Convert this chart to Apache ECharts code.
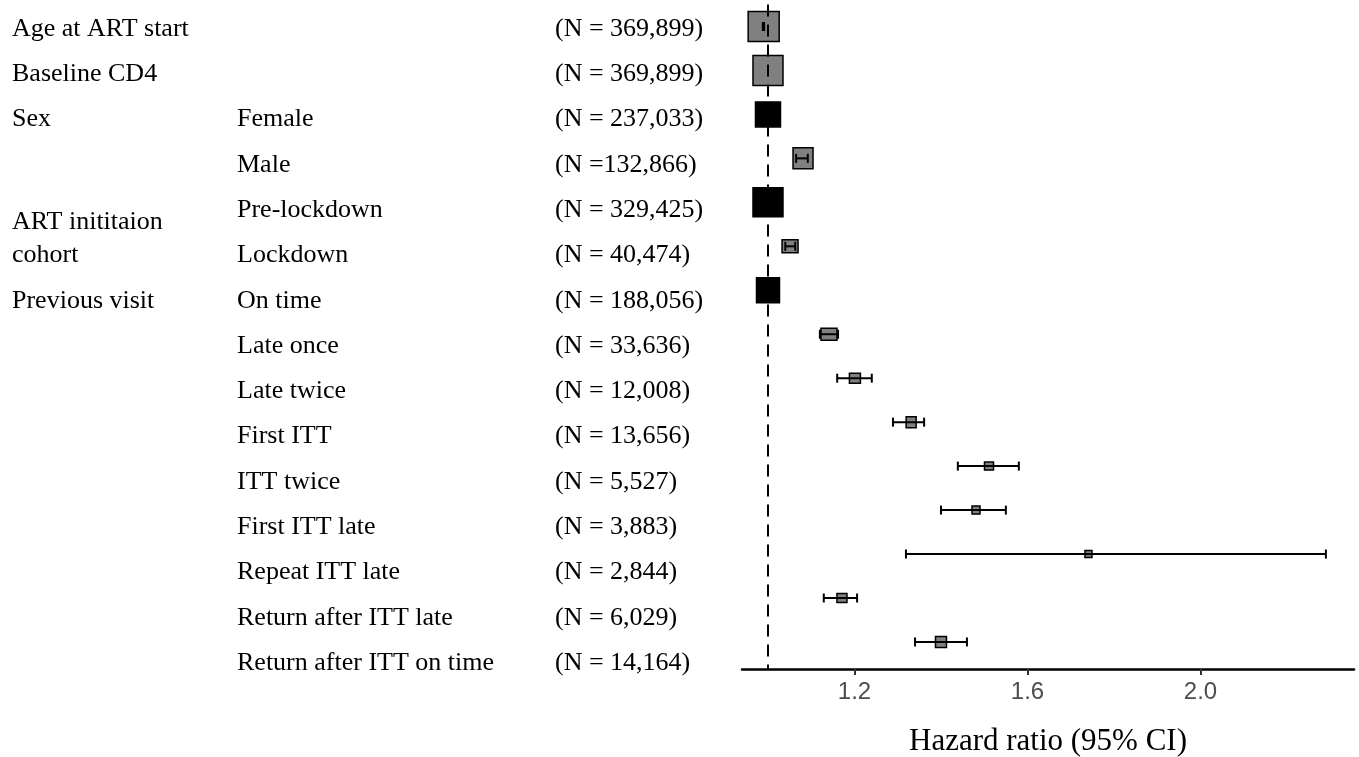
<!DOCTYPE html>
<html>
<head>
<meta charset="utf-8">
<script src="https://cdn.jsdelivr.net/npm/echarts@6/dist/echarts.min.js"></script>
<style>html,body{margin:0;padding:0;background:#fff}#c{width:1359px;height:757px}</style>
</head>
<body>
<div id="c"></div>
<script>
// ---- data ----
const groupLabels = ["Age at ART start", "Baseline CD4", "Sex", "", "ART inititaion", "cohort", "Previous visit", "", "", "", "", "", "", "", ""];
const subLabels = ["", "", "Female", "Male", "Pre-lockdown", "Lockdown", "On time", "Late once", "Late twice", "First ITT", "ITT twice", "First ITT late", "Repeat ITT late", "Return after ITT late", "Return after ITT on time"];
const nLabels = ["(N = 369,899)", "(N = 369,899)", "(N = 237,033)", "(N =132,866)", "(N = 329,425)", "(N = 40,474)", "(N = 188,056)", "(N = 33,636)", "(N = 12,008)", "(N = 13,656)", "(N = 5,527)", "(N = 3,883)", "(N = 2,844)", "(N = 6,029)", "(N = 14,164)"];
const hr = [0.990, 1.000, 1.000, 1.081, 1.000, 1.051, 1.000, 1.141, 1.201, 1.331, 1.511, 1.481, 1.741, 1.171, 1.400];
const lo = [0.988, 0.9995, 1.000, 1.065, 1.000, 1.040, 1.000, 1.120, 1.160, 1.289, 1.439, 1.400, 1.319, 1.129, 1.340];
const hi = [0.991, 1.0005, 1.000, 1.092, 1.000, 1.063, 1.000, 1.162, 1.240, 1.361, 1.580, 1.550, 2.290, 1.206, 1.460];
const isReference = [0, 0, 1, 0, 1, 0, 1, 0, 0, 0, 0, 0, 0, 0, 0];
const xTicks = [1.2, 1.6, 2.0];
const refValue = 1.0;

// ---- styles ----
const boxW = [31, 30, 25, 20, 30, 16, 23, 16, 11, 10, 9, 8, 7, 10, 11];
const boxH = [30, 30, 25, 21, 29, 13, 25, 12, 10, 11, 8, 8, 7, 9, 11];
const loweredLabelRow = 4; // "ART inititaion" sits a little below its row

const seriesData = hr.map((v, i) => [v, lo[i], hi[i], i, isReference[i]]);

const chart = echarts.init(document.getElementById('c'), null, {renderer: 'canvas'});
const serif = 'Liberation Serif';
const labelStyle = {fontFamily: serif, fontSize: 26, color: '#000', align: 'left', margin: 0};

chart.setOption({
  animation: false,
  grid: [
    {left: 742, right: 5, top: 4.5, bottom: 88, outerBoundsMode: 'none', containLabel: false},
    {left: 12, width: 700, top: 6.4, height: 679.3, outerBoundsMode: 'none', containLabel: false}
  ],
  xAxis: [
    {
      gridIndex: 0, type: 'value', min: 0.9399, max: 2.355,
      splitLine: {show: false},
      axisLine: {show: true, onZero: false, lineStyle: {color: '#000', width: 2.5}},
      axisTick: {show: true, customValues: xTicks, length: 6, lineStyle: {color: '#333', width: 2}},
      axisLabel: {customValues: xTicks, formatter: v => Number(v).toFixed(1), color: '#4d4d4d', fontFamily: 'Liberation Sans', fontSize: 24, margin: 11},
      name: 'Hazard ratio (95% CI)', nameLocation: 'middle', nameGap: 57,
      nameTextStyle: {fontFamily: serif, fontSize: 31, color: '#000'}
    },
    {gridIndex: 1, type: 'value', show: false}
  ],
  yAxis: [
    {gridIndex: 0, type: 'value', inverse: true, min: -0.5, max: 14.615, show: false},
    {gridIndex: 1, type: 'category', inverse: true, data: groupLabels, position: 'left', offset: 0,
      axisLine: {show: false}, axisTick: {show: false},
      axisLabel: Object.assign({}, labelStyle, {
        formatter: (v, idx) => idx === loweredLabelRow ? '{low|' + v + '}' : v,
        rich: {low: {fontFamily: serif, fontSize: 26, color: '#000', padding: [24, 0, 0, 0]}}
      })},
    {gridIndex: 1, type: 'category', inverse: true, data: subLabels, position: 'left', offset: -225,
      axisLine: {show: false}, axisTick: {show: false}, axisLabel: labelStyle},
    {gridIndex: 1, type: 'category', inverse: true, data: nLabels, position: 'left', offset: -543,
      axisLine: {show: false}, axisTick: {show: false}, axisLabel: labelStyle}
  ],
  series: [
    {
      type: 'custom', xAxisIndex: 0, yAxisIndex: 0, z: 2,
      data: seriesData,
      renderItem: function (params, api) {
        const i = api.value(3);
        const c = api.coord([api.value(0), i]);
        const pl = api.coord([api.value(1), i]);
        const ph = api.coord([api.value(2), i]);
        const w = boxW[i], h = boxH[i];
        const fill = api.value(4) ? '#000' : '#808080';
        const children = [{
          type: 'rect',
          shape: {x: c[0] - w / 2, y: c[1] - h / 2, width: w, height: h},
          style: {fill: fill, stroke: '#000', lineWidth: 1.5}
        }];
        if (ph[0] - pl[0] > 0.5) {
          const cap = 4.5;
          children.push(
            {type: 'line', shape: {x1: pl[0], y1: c[1], x2: ph[0], y2: c[1]}, style: {stroke: '#000', lineWidth: 2}},
            {type: 'line', shape: {x1: pl[0], y1: c[1] - cap, x2: pl[0], y2: c[1] + cap}, style: {stroke: '#000', lineWidth: 2}},
            {type: 'line', shape: {x1: ph[0], y1: c[1] - cap, x2: ph[0], y2: c[1] + cap}, style: {stroke: '#000', lineWidth: 2}}
          );
        }
        return {type: 'group', children: children};
      }
    },
    {
      type: 'line', xAxisIndex: 0, yAxisIndex: 0, data: [], z: 3,
      markLine: {
        silent: true, symbol: ['none', 'none'], label: {show: false},
        lineStyle: {color: '#000', width: 2, type: [12, 8]},
        data: [{xAxis: refValue}]
      }
    }
  ]
});
</script>
</body>
</html>
